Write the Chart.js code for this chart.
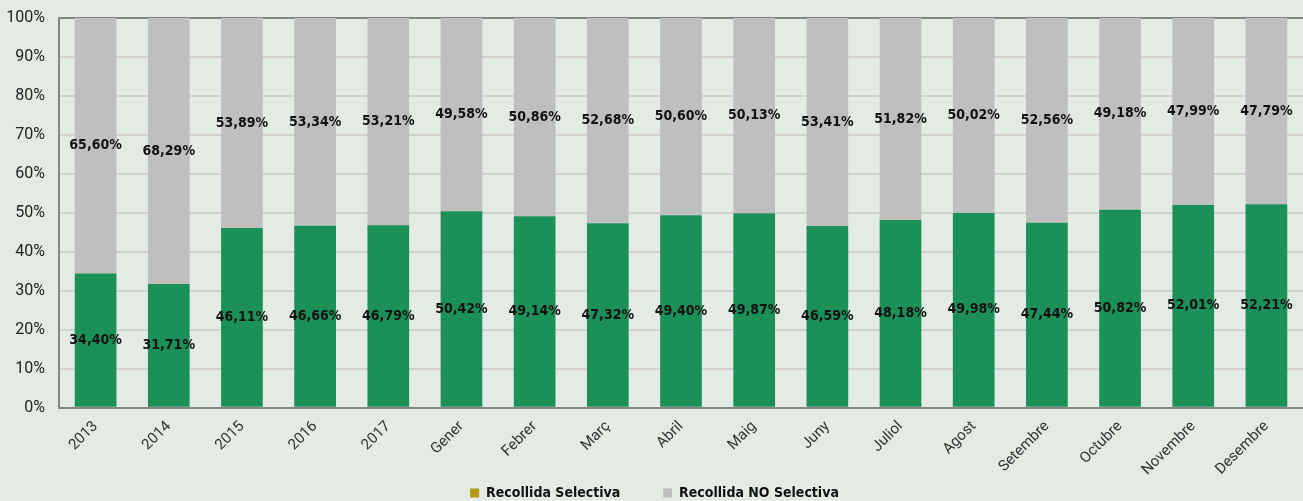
<!DOCTYPE html>
<html>
<head>
<meta charset="utf-8">
<script src="https://cdn.jsdelivr.net/npm/chart.js@4.4.0/dist/chart.umd.min.js"></script>
<style>
  html, body { margin: 0; padding: 0; background: #e4ebe4; }
  #wrap { width: 1303px; height: 501px; }
</style>
</head>
<body>
<div id="wrap"><canvas id="chart"></canvas></div>
<script>
const categories = ['2013', '2014', '2015', '2016', '2017', 'Gener', 'Febrer', 'Març', 'Abril', 'Maig',
    'Juny', 'Juliol', 'Agost', 'Setembre', 'Octubre', 'Novembre', 'Desembre'];
const selectiva = [34.40, 31.71, 46.11, 46.66, 46.79, 50.42, 49.14, 47.32, 49.40, 49.87,
    46.59, 48.18, 49.98, 47.44, 50.82, 52.01, 52.21];
const noSelectiva = [65.60, 68.29, 53.89, 53.34, 53.21, 49.58, 50.86, 52.68, 50.60, 50.13,
    53.41, 51.82, 50.02, 52.56, 49.18, 47.99, 47.79];
const yTicks = [0, 10, 20, 30, 40, 50, 60, 70, 80, 90, 100];

const GREEN = '#1b9159';
const GREY = '#bfbfbf';
const LEGEND_OLIVE = '#b39b17';
const COND = '"DejaVu Sans Condensed", "DejaVu Sans", sans-serif';

// writes the value in the middle of each bar segment
const barLabels = {
    id: 'barLabels',
    afterDatasetsDraw(chart) {
        const ctx = chart.ctx;
        ctx.save();
        ctx.font = 'bold 14px ' + COND;
        ctx.fillStyle = '#111';
        ctx.textAlign = 'center';
        ctx.textBaseline = 'middle';
        chart.data.datasets.forEach((ds, i) => {
            chart.getDatasetMeta(i).data.forEach((bar, j) => {
                const p = bar.getProps(['x', 'y', 'base'], true);
                const txt = ds.data[j].toFixed(2).replace('.', ',') + '%';
                ctx.fillText(txt, p.x, (p.y + p.base) / 2);
            });
        });
        ctx.restore();
    }
};

new Chart(document.getElementById('chart'), {
    type: 'bar',
    data: {
        labels: categories,
        datasets: [
            { label: 'Recollida Selectiva', data: selectiva, backgroundColor: GREEN },
            { label: 'Recollida NO Selectiva', data: noSelectiva, backgroundColor: GREY }
        ]
    },
    options: {
        responsive: true,
        maintainAspectRatio: false,
        animation: false,
        layout: { autoPadding: false, padding: { top: 18, right: 0, left: 6, bottom: -9 } },
        datasets: { bar: { categoryPercentage: 1, barPercentage: 0.57 } },
        scales: {
            x: {
                stacked: true,
                grid: { display: false },
                border: { color: '#858585', width: 2 },
                ticks: {
                    color: '#333',
                    font: { family: 'Roboto', size: 15 },
                    minRotation: 45, maxRotation: 45,
                    padding: 2
                }
            },
            y: {
                stacked: true,
                min: 0, max: 100,
                afterBuildTicks: axis => { axis.ticks = yTicks.map(v => ({ value: v })); },
                afterFit: axis => {
                    axis.width = 53;
                    axis.paddingTop = 0;
                    axis.paddingBottom = 0;
                },
                grid: {
                    color: c => c.tick && c.tick.value === 100 ? '#858585' : '#d3cfcf',
                    lineWidth: 2,
                    drawTicks: false
                },
                border: { color: '#858585', width: 2 },
                ticks: {
                    color: '#222',
                    padding: 14,
                    font: { family: 'Roboto', size: 16 },
                    callback: v => v + '%'
                }
            }
        },
        plugins: {
            tooltip: { enabled: false },
            legend: {
                position: 'bottom',
                labels: {
                    boxWidth: 9, boxHeight: 9,
                    padding: 5,
                    color: '#111',
                    font: { family: COND, size: 14, weight: 'bold' },
                    generateLabels: chart => {
                        const items = Chart.defaults.plugins.legend.labels.generateLabels(chart);
                        items.forEach(it => {
                            it.fillStyle = it.datasetIndex === 0 ? LEGEND_OLIVE : GREY;
                            it.strokeStyle = 'transparent';
                            it.lineWidth = 0;
                            // widen the gap between the two legend entries
                            if (it.datasetIndex === 0) it.text += '\u2003\u2003\u2003';
                        });
                        return items;
                    }
                }
            }
        }
    },
    plugins: [barLabels]
});
</script>
</body>
</html>
